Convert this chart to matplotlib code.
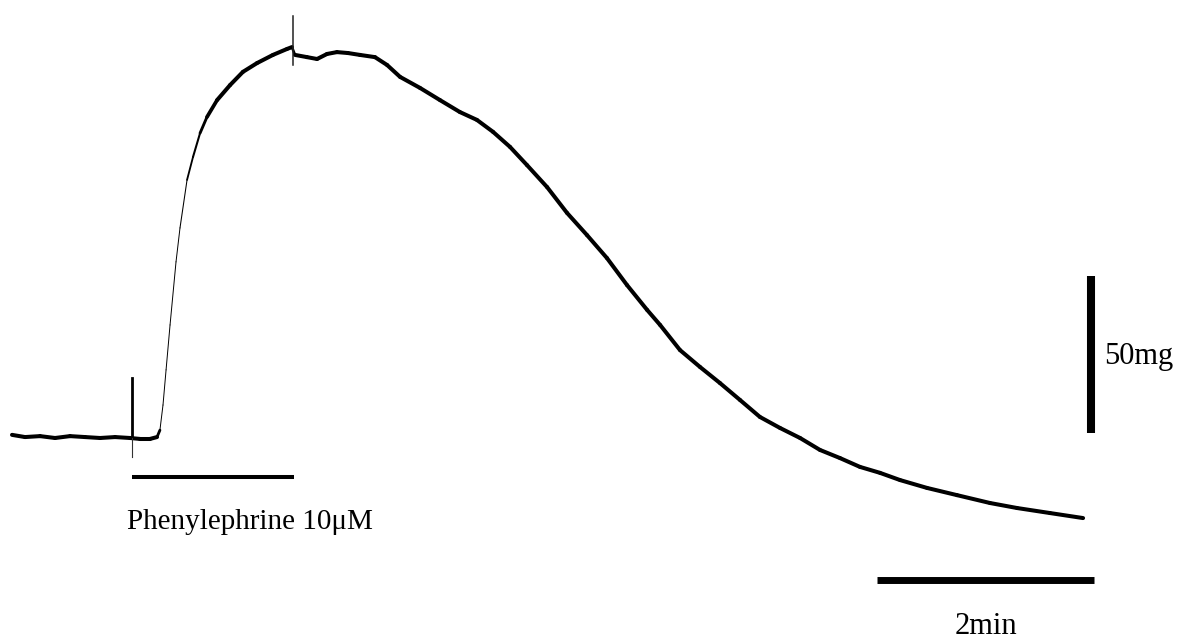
import matplotlib
matplotlib.use("Agg")
import matplotlib.pyplot as plt
import numpy as np
from matplotlib.collections import LineCollection

# isometric tension trace, time in s, tension in mg (0 = resting baseline)
time_s = [0.0, 7.2, 15.5, 23.8, 32.1, 40.4, 48.7, 57.0, 65.3, 70.8, 76.3, 80.2,
          81.8, 83.5, 85.2, 87.4, 90.7, 92.9, 96.8, 100.1, 104.0, 107.8, 113.4,
          120.6, 127.7, 135.5, 144.3, 152.1, 154.8,
          156.5, 163.1, 168.7, 174.2, 179.7, 185.8, 192.4, 200.7,
          207.4, 214.6, 225.6, 236.7, 247.7, 257.1, 266.0, 275.4, 284.8, 295.9,
          306.9, 318.0, 329.0, 340.1, 351.2, 358.4, 369.4, 380.5, 391.5, 402.6,
          413.6, 424.7, 435.8, 446.8, 457.9, 468.9, 480.0, 491.1, 506.0, 522.6,
          540.8, 555.8, 574.0, 592.3]
tension_mg = [1.0, 0.3, 0.6, 0.0, 0.6, 0.3, 0.0, 0.3, 0.0, -0.3, -0.3, 0.3,
              2.5, 10.5, 21.7, 36.0, 56.1, 66.9, 82.2, 89.5, 97.1, 102.2, 107.6,
              112.4, 116.6, 119.4, 122.0, 123.9, 124.5,
              122.0, 121.3, 120.7, 122.3, 122.9, 122.6, 122.0, 121.3,
              118.8, 115.0, 111.5, 107.6, 103.8, 101.3, 97.5, 92.7, 86.9, 79.9,
              71.7, 64.6, 57.3, 48.7, 40.8, 36.0, 28.0, 22.6, 17.5, 12.1,
              6.7, 3.2, 0.0, -3.8, -6.4, -9.2, -11.1, -13.4, -15.9, -18.2,
              -20.7, -22.3, -23.9, -25.5]

drug_label = "Phenylephrine 10\u03bcM"
drug_on, drug_off = 66.4, 156.0      # application bar (s)
drug_mark = (19.1, -6.1)             # event mark at drug addition (mg)
peak_mark_t = 155.4
peak_mark = (134.5, 118.8)

bar_time = 120      # 2 min
bar_tension = 50    # 50 mg
time_bar_end = 598.5
tension_bar_t = 596.7
time_label = "2min"
tension_label = "50mg"

# scale of the page: px per s and px per mg
px_s = 217 / 120
px_mg = 157 / 50

fig = plt.figure(figsize=(11.87, 6.42), dpi=100)
ax = fig.add_axes([0, 0, 1, 1])
ax.set_xlim(-12 / px_s, (1187 - 12) / px_s)
ax.set_ylim((438 - 642) / px_mg, 438 / px_mg)
ax.axis("off")

# trace drawn thinner where the pen moves fast (as on the chart recorder)
t = np.array(time_s)
y = np.array(tension_mg)
pts = np.column_stack([t, y]).reshape(-1, 1, 2)
segs = np.concatenate([pts[:-1], pts[1:]], axis=1)
dx = np.diff(t) * px_s
dy = np.diff(y) * px_mg
speed = np.hypot(dx, dy) / dx
widths = np.clip(2.9 / np.maximum(1.0, speed / 1.8), 0.7, 2.9)
lc = LineCollection(segs, linewidths=widths, colors="black", capstyle="round", joinstyle="round")
ax.add_collection(lc)

# event marks
ax.plot([drug_on, drug_on], [drug_mark[0], 0], color="black", lw=2.0)
ax.plot([drug_on, drug_on], [0, drug_mark[1]], color="#333333", lw=0.8)
ax.plot([peak_mark_t, peak_mark_t], peak_mark, color="#222222", lw=1.1)

# drug application bar + label
bar_y = -12.4
ax.plot([drug_on, drug_off], [bar_y, bar_y], color="black", lw=2.9, solid_capstyle="butt")
ax.text(drug_on - 3, -26.8, drug_label, ha="left", va="center",
        fontsize=21, family="Liberation Serif")

# scale bars
sx0 = time_bar_end - bar_time
ax.plot([sx0, time_bar_end], [-45.2, -45.2], color="black", lw=5, solid_capstyle="butt")
ax.text((sx0 + time_bar_end) / 2, -60.0, time_label, ha="center", va="center",
        fontsize=22, family="Liberation Serif")

ax.plot([tension_bar_t, tension_bar_t], [1.6, 1.6 + bar_tension], color="black", lw=5.8,
        solid_capstyle="butt")
ax.text(tension_bar_t + 7.5, 26.0, tension_label, ha="left", va="center",
        fontsize=22, family="Liberation Serif")

fig.savefig("out.png", dpi=100)
